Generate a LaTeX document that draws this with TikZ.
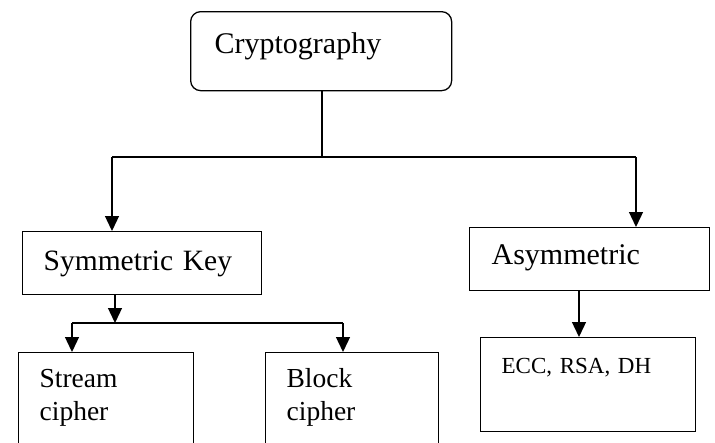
\documentclass[tikz,border=0pt]{standalone}
\usepackage{fontspec}
\setmainfont{Liberation Serif}
\usetikzlibrary{arrows.meta}

\tikzset{
	blk/.style={draw, line width=1.3pt, anchor=north west, inner ysep=0pt, inner xsep=21pt, align=left},
	arr/.style={line width=1.3pt, -{Triangle[length=15pt,width=14pt]}},
	ln/.style={line width=1.3pt}
}

\begin{document}
\begin{tikzpicture}[x=1pt,y=-1pt]
		\clip (0,0) rectangle (715,442);
		
		\node[blk, rounded corners=10pt, inner xsep=24pt, text width=213pt, text height=42pt, text depth=37pt, font=\fontsize{30}{33}\selectfont] (crypto) at (190,11) {Cryptography};
		
		\node[blk, text width=197pt, text height=39pt, text depth=24pt, font=\fontsize{29.5}{33}\selectfont] (sym) at (22,231) {Symmetric Key};
		\node[blk, inner xsep=22pt, text width=196pt, text height=37pt, text depth=26pt, font=\fontsize{30}{33}\selectfont] (asym) at (469,227) {Asymmetric};
		
		\node[blk, text width=133pt, text height=35pt, text depth=83pt, font=\fontsize{27.5}{33}\selectfont] (stream) at (18,352) {Stream\\cipher};
		\node[blk, text width=131pt, text height=35pt, text depth=83pt, font=\fontsize{27.5}{33}\selectfont] (block) at (265,352) {Block\\cipher};
		\node[blk, text width=173pt, text height=36pt, text depth=58pt, font=\fontsize{23}{28}\selectfont] (ecc) at (480,337) {ECC, RSA, DH};
		
		\coordinate (s0) at (322,157);
		\coordinate (s1) at (112,157);
		\coordinate (s2) at (636,157);
		\coordinate (t0) at (115,323);
		\coordinate (t1) at (72,323);
		\coordinate (t2) at (343,323);
		\coordinate (u0) at (579,0);
		
		\draw[ln] (s0 |- crypto.south) -- (s0);
		\draw[ln] (s1) -- (s2);
		\draw[arr] (s1) -- (s1 |- sym.north);
		\draw[arr] (s2) -- (s2 |- asym.north);
		
		\draw[arr] (t0 |- sym.south) -- (t0);
		\draw[ln] (t1) -- (t2);
		\draw[arr] (t1) -- (t1 |- stream.north);
		\draw[arr] (t2) -- (t2 |- block.north);
		
		\draw[arr] (u0 |- asym.south) -- (u0 |- ecc.north);
	\end{tikzpicture}
\end{document}
